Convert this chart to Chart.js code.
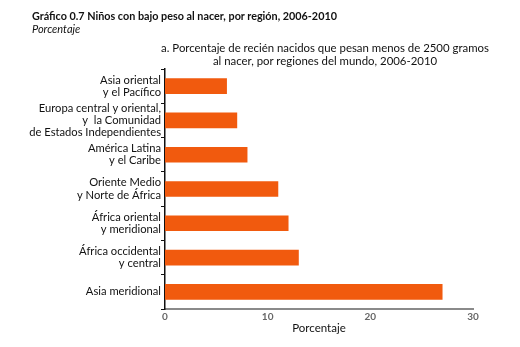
<!DOCTYPE html>
<html>
<head>
<meta charset="utf-8">
<script src="https://cdn.jsdelivr.net/npm/chart.js@4/dist/chart.umd.min.js"></script>
<style>
  body { margin: 0; background: #fff; }
  #wrap { position: relative; width: 520px; height: 347px; font-family: Lato, sans-serif; color: #111; }
  #chart { position: absolute; left: 0; top: 0; }
  .head { position: absolute; left: 32px; top: 9px; font-size: 10.8px; font-weight: bold; white-space: nowrap; }
  .sub { position: absolute; left: 32px; top: 22px; font-size: 11px; font-style: italic; }
  .panel { position: absolute; left: 150px; width: 350px; top: 41px; font-size: 11.4px; line-height: 13px; text-align: center; white-space: nowrap; }
</style>
</head>
<body>
<div id="wrap">
  <canvas id="chart" width="520" height="347"></canvas>
  <div class="head">Gráfico 0.7 Niños con bajo peso al nacer, por región, 2006-2010</div>
  <div class="sub">Porcentaje</div>
  <div class="panel">a. Porcentaje de recién nacidos que pesan menos de 2500 gramos<br>al nacer, por regiones del mundo, 2006-2010</div>
</div>
<script>
let regiones = [
    ['Asia oriental', 'y el Pacífico'],
    ['Europa central y oriental,', 'y  la Comunidad', 'de Estados Independientes'],
    ['América Latina', 'y el Caribe'],
    ['Oriente Medio', 'y Norte de África'],
    ['África oriental', 'y meridional'],
    ['África occidental', 'y central'],
    'Asia meridional'
];
let porcentajes = [6, 7, 8, 11, 12, 13, 27];
let ticksX = [0, 10, 20, 30];

let ctx = document.getElementById('chart').getContext('2d');
let chart = new Chart(ctx, {
    type: 'bar',
    data: {
        labels: regiones,
        datasets: [{
            label: 'Porcentaje',
            data: porcentajes,
            backgroundColor: '#F15A0E',
            borderWidth: 0,
            barThickness: 15
        }]
    },
    options: {
        indexAxis: 'y',
        responsive: false,
        animation: false,
        layout: { padding: { top: 69, right: 47, bottom: 0, left: 0 } },
        plugins: {
            legend: { display: false },
            tooltip: { enabled: false }
        },
        scales: {
            x: {
                min: 0,
                max: 30,
                afterBuildTicks: function (scale) {
                    scale.ticks = ticksX.map(v => ({ value: v }));
                },
                afterFit: function (scale) { scale.height = 38; },
                grid: { display: false },
                border: { display: true, color: '#8a8a8a', width: 2 },
                ticks: {
                    color: '#666',
                    font: { family: 'Lato', size: 10, weight: 'bold' },
                    padding: -6
                },
                title: {
                    display: true,
                    text: 'Porcentaje',
                    color: '#111',
                    font: { family: 'Lato', size: 11.5 },
                    padding: { top: 0, bottom: 12 }
                }
            },
            y: {
                afterFit: function (scale) { scale.width = 165; },
                grid: {
                    drawOnChartArea: false,
                    drawTicks: true,
                    tickLength: 4,
                    color: '#111',
                    lineWidth: 1
                },
                border: { display: true, color: '#111', width: 1.5 },
                ticks: {
                    autoSkip: false,
                    color: '#111',
                    font: { family: 'Lato', size: 11.2, lineHeight: 1.1 },
                    padding: 0
                }
            }
        }
    }
});
</script>
</body>
</html>
